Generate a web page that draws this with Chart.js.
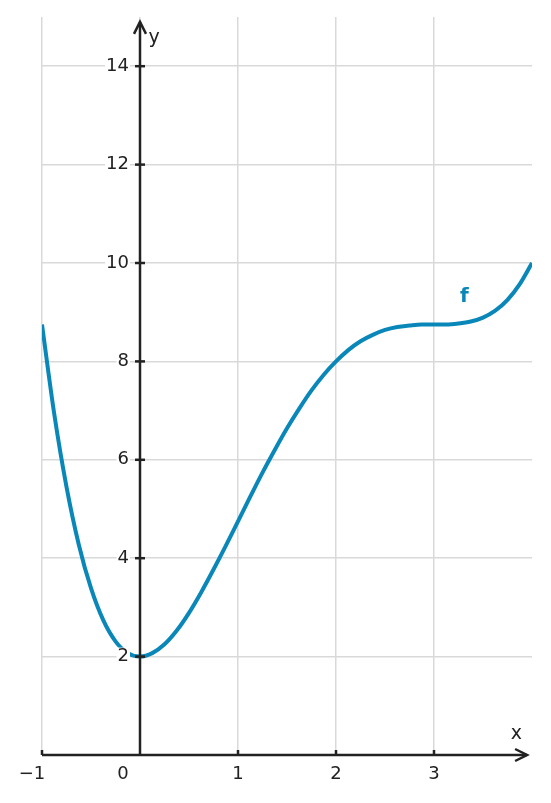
<!DOCTYPE html>
<html>
<head>
<meta charset="utf-8">
<script src="https://cdn.jsdelivr.net/npm/chart.js@4.4.1/dist/chart.umd.min.js"></script>
<style>
  html, body { margin: 0; padding: 0; background: #fff; }
  canvas { display: block; }
</style>
</head>
<body>
<canvas id="plot" width="551" height="803"></canvas>
<script>
// Sample points
const xValues = [-1, -0.875, -0.75, -0.625, -0.5, -0.375, -0.25, -0.125, 0, 0.125, 0.25, 0.375, 0.5, 0.625, 0.75, 0.875,
  1, 1.125, 1.25, 1.375, 1.5, 1.625, 1.75, 1.875, 2, 2.125, 2.25, 2.375, 2.5, 2.625, 2.75, 2.875,
  3, 3.125, 3.25, 3.375, 3.5, 3.625, 3.75, 3.875, 4];
const fValues = [8.75, 6.93, 5.45, 4.28, 3.39, 2.74, 2.31, 2.07, 2, 2.07, 2.25, 2.53, 2.89, 3.31, 3.77, 4.25,
  4.75, 5.25, 5.74, 6.2, 6.64, 7.04, 7.41, 7.73, 8, 8.23, 8.41, 8.54, 8.64, 8.7, 8.73, 8.75,
  8.75, 8.75, 8.77, 8.81, 8.89, 9.03, 9.25, 9.57, 10];

// Axis ticks
const xTicks = [-1, 0, 1, 2, 3];
const xTickLabels = ["\u22121", "0", "1", "2", "3"];
const yTicks = [2, 4, 6, 8, 10, 12, 14];
const yTickLabels = ["2", "4", "6", "8", "10", "12", "14"];

const curveColor = "#0a87b9";
const axisColor = "#222222";
const gridColor = "#d9d9d9";
const font = "DejaVu Sans";

// Draws the axes through the origin, arrows, tick marks and labels
const axesPlugin = {
  id: "originAxes",
  afterDatasetsDraw(chart) {
    const ctx = chart.ctx;
    const xs = chart.scales.x;
    const ys = chart.scales.y;
    const x0 = xs.getPixelForValue(0);
    const y0 = ys.getPixelForValue(0);
    const xEnd = xs.getPixelForValue(3.95);
    const yEnd = ys.getPixelForValue(14.9);

    ctx.save();
    ctx.strokeStyle = axisColor;
    ctx.lineWidth = 2.5;

    // x axis
    ctx.beginPath();
    ctx.moveTo(xs.getPixelForValue(-1), y0);
    ctx.lineTo(xEnd, y0);
    ctx.stroke();
    // y axis
    ctx.beginPath();
    ctx.moveTo(x0, y0);
    ctx.lineTo(x0, yEnd);
    ctx.stroke();

    // arrow heads
    ctx.lineJoin = "miter";
    ctx.beginPath();
    ctx.moveTo(xEnd - 12, y0 - 6);
    ctx.lineTo(xEnd, y0);
    ctx.lineTo(xEnd - 12, y0 + 6);
    ctx.stroke();
    ctx.beginPath();
    ctx.moveTo(x0 - 6, yEnd + 12);
    ctx.lineTo(x0, yEnd);
    ctx.lineTo(x0 + 6, yEnd + 12);
    ctx.stroke();

    // tick marks
    xTicks.forEach(v => {
      if (v === 0) return;
      const px = xs.getPixelForValue(v);
      ctx.beginPath();
      ctx.moveTo(px, y0 - 5);
      ctx.lineTo(px, y0);
      ctx.stroke();
    });
    yTicks.forEach(v => {
      const py = ys.getPixelForValue(v);
      ctx.beginPath();
      ctx.moveTo(x0 - 5, py);
      ctx.lineTo(x0 + 5, py);
      ctx.stroke();
    });

    // tick labels with white background
    ctx.font = "18px '" + font + "'";
    ctx.textBaseline = "middle";
    const label = (text, cx, cy, align) => {
      ctx.textAlign = align;
      const w = ctx.measureText(text).width;
      let left = cx;
      if (align === "center") left = cx - w / 2;
      if (align === "right") left = cx - w;
      ctx.fillStyle = "#fff";
      ctx.fillRect(left - 1, cy - 9, w + 2, 18);
      ctx.fillStyle = axisColor;
      ctx.fillText(text, cx, cy);
    };
    xTicks.forEach((v, i) => {
      let px = xs.getPixelForValue(v);
      if (v === -1) px -= 10;
      if (v === 0) px -= 17;
      label(xTickLabels[i], px, y0 + 19, "center");
    });
    yTicks.forEach((v, i) => {
      label(yTickLabels[i], x0 - 11, ys.getPixelForValue(v), "right");
    });

    // axis names
    ctx.font = "19px '" + font + "'";
    ctx.fillStyle = axisColor;
    ctx.textAlign = "center";
    ctx.fillText("x", xs.getPixelForValue(3.84), y0 - 21);
    ctx.fillText("y", x0 + 14, ys.getPixelForValue(14.57));

    // function label
    ctx.font = "bold 20px '" + font + "'";
    ctx.fillStyle = curveColor;
    ctx.fillText("f", xs.getPixelForValue(3.31), ys.getPixelForValue(9.32));
    ctx.restore();
  }
};

new Chart(document.getElementById("plot"), {
  type: "line",
  data: {
    datasets: [{
      label: "f",
      data: xValues.map((x, i) => ({ x: x, y: fValues[i] })),
      borderColor: curveColor,
      borderWidth: 4,
      pointRadius: 0,
      fill: false,
      cubicInterpolationMode: "monotone"
    }]
  },
  options: {
    responsive: false,
    animation: false,
    layout: { padding: { left: 42, right: 19, top: 17, bottom: 48 } },
    plugins: { legend: { display: false }, tooltip: { enabled: false } },
    scales: {
      x: {
        type: "linear",
        position: { y: 0 },
        min: -1,
        max: 4,
        afterBuildTicks: s => { s.ticks = xTicks.map(v => ({ value: v })); },
        ticks: { display: false },
        border: { display: false },
        grid: { color: gridColor, lineWidth: 1.5, drawTicks: false }
      },
      y: {
        type: "linear",
        position: { x: 0 },
        min: 0,
        max: 15,
        afterBuildTicks: s => { s.ticks = yTicks.map(v => ({ value: v })); },
        ticks: { display: false },
        border: { display: false },
        grid: { color: gridColor, lineWidth: 1.5, drawTicks: false }
      }
    }
  },
  plugins: [axesPlugin]
});
</script>
</body>
</html>
